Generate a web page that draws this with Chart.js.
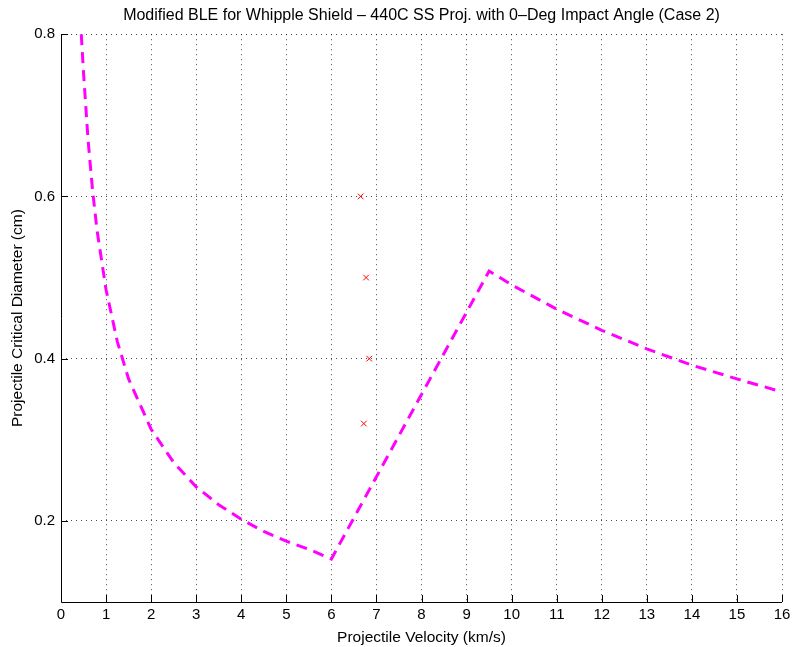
<!DOCTYPE html>
<html>
<head>
<meta charset="utf-8">
<script src="https://cdn.jsdelivr.net/npm/chart.js@4.4.1/dist/chart.umd.min.js"></script>
<style>
  html, body { margin: 0; padding: 0; background: #fff; }
  #wrap { width: 793px; height: 647px; }
</style>
</head>
<body>
<div id="wrap"><canvas id="c" width="793" height="647"></canvas></div>
<script>
// Ballistic limit curve: projectile velocity (km/s) vs critical diameter (cm)
const velocity = [0.45, 0.5, 0.6, 0.7, 0.8, 1, 1.25, 1.5, 2, 2.5, 3, 3.5, 4, 4.5, 5, 5.5, 6,
                  9.5, 10, 11, 12, 13, 14, 15, 16];
const criticalDiameter = [0.8, 0.752, 0.670, 0.608, 0.558, 0.485, 0.421, 0.375, 0.313, 0.272, 0.242, 0.220, 0.202, 0.187, 0.175, 0.165, 0.153,
                          0.508, 0.491, 0.461, 0.435, 0.412, 0.392, 0.375, 0.359];

// Test shots
const testVelocity = [6.65, 6.77, 6.84, 6.72];
const testDiameter = [0.600, 0.500, 0.400, 0.320];

const xTicks = [0, 1, 2, 3, 4, 5, 6, 7, 8, 9, 10, 11, 12, 13, 14, 15, 16];
const yTicks = [0.2, 0.4, 0.6, 0.8];

const FONT = "'Liberation Sans', Arial, Helvetica, sans-serif";

// Solid left/bottom axis lines with inward tick marks
const axisFrame = {
  id: 'axisFrame',
  afterDraw(chart) {
    const { ctx, chartArea: a, scales: { x, y } } = chart;
    ctx.save();
    ctx.strokeStyle = '#000';
    ctx.lineWidth = 1;
    ctx.beginPath();
    ctx.moveTo(a.left + 0.5, a.top);
    ctx.lineTo(a.left + 0.5, a.bottom + 0.5);
    ctx.lineTo(a.right, a.bottom + 0.5);
    ctx.stroke();
    ctx.beginPath();
    xTicks.forEach(v => {
      const px = Math.round(x.getPixelForValue(v)) + 0.5;
      ctx.moveTo(px, a.bottom);
      ctx.lineTo(px, a.bottom - 7);
    });
    yTicks.forEach(v => {
      const py = Math.round(y.getPixelForValue(v)) + 0.5;
      ctx.moveTo(a.left, py);
      ctx.lineTo(a.left + 7, py);
    });
    ctx.stroke();
    ctx.restore();
  }
};

new Chart(document.getElementById('c'), {
  type: 'line',
  data: {
    datasets: [
      {
        label: 'BLE',
        data: velocity.map((v, i) => ({ x: v, y: criticalDiameter[i] })),
        borderColor: '#ff00ff',
        borderWidth: 3,
        borderDash: [11, 7],
        pointRadius: 0,
        fill: false,
        tension: 0
      },
      {
        label: 'Tests',
        data: testVelocity.map((v, i) => ({ x: v, y: testDiameter[i] })),
        showLine: false,
        pointStyle: 'crossRot',
        pointRadius: 4,
        pointBorderWidth: 1,
        pointBorderColor: '#ff0000',
        pointBackgroundColor: '#ff0000'
      }
    ]
  },
  options: {
    responsive: false,
    animation: false,
    clip: true,
    layout: { padding: { left: 0, right: 0, top: 0, bottom: 0 } },
    plugins: {
      legend: { display: false },
      tooltip: { enabled: false },
      title: {
        display: true,
        fullSize: false,
        text: 'Modified BLE for Whipple Shield \u2013 440C SS Proj. with 0\u2013Deg Impact Angle (Case 2)',
        color: '#000',
        font: { family: FONT, size: 16, weight: 'normal' },
        padding: { top: 6, bottom: 9 }
      }
    },
    scales: {
      x: {
        type: 'linear',
        min: 0, max: 16,
        afterBuildTicks: s => { s.ticks = xTicks.map(v => ({ value: v })); },
        afterFit: s => { s.height = 45; s.paddingRight = 11; },
        grid: { color: 'rgba(0,0,0,0.7)', drawTicks: false, lineWidth: 1 },
        border: { display: false, dash: [1, 4] },
        ticks: { color: '#000', font: { family: FONT, size: 15 }, padding: 4, maxRotation: 0 },
        title: { display: true, text: 'Projectile Velocity (km/s)', color: '#000', font: { family: FONT, size: 15.5 }, padding: { top: 0, bottom: 0 } }
      },
      y: {
        type: 'linear',
        min: 0.1, max: 0.8,
        afterBuildTicks: s => { s.ticks = yTicks.map(v => ({ value: v })); },
        afterFit: s => { s.width = 61; },
        grid: { color: 'rgba(0,0,0,0.7)', drawTicks: false, lineWidth: 1 },
        border: { display: false, dash: [1, 4] },
        ticks: { color: '#000', font: { family: FONT, size: 15 }, padding: 6, callback: v => v.toFixed(1) },
        title: { display: true, text: 'Projectile Critical Diameter (cm)', color: '#000', font: { family: FONT, size: 15.5 }, padding: { top: 8, bottom: 0 } }
      }
    }
  },
  plugins: [axisFrame]
});
</script>
</body>
</html>
